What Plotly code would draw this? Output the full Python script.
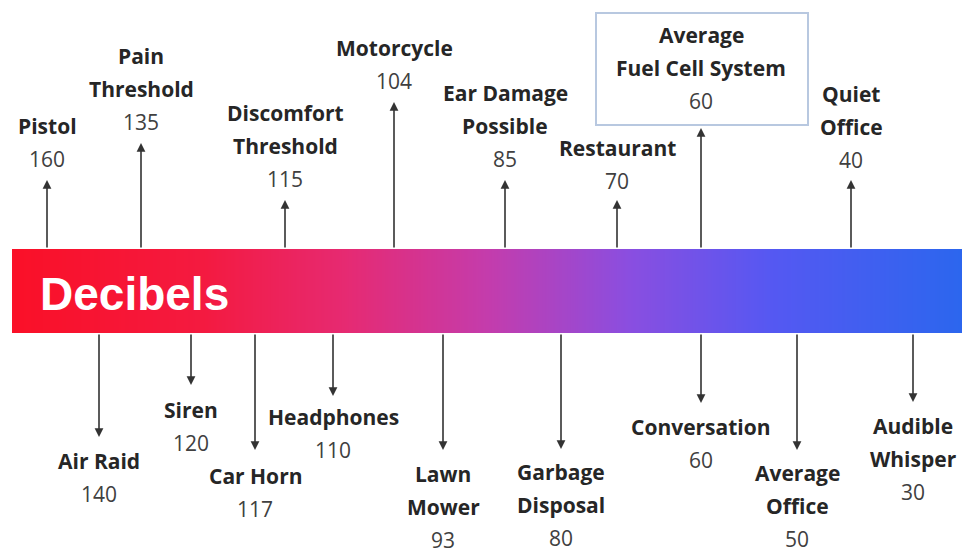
import numpy as np
import plotly.graph_objects as go

# noise sources, ordered left to right along the bar
sources = ["Pistol", "Air Raid", "Pain\nThreshold", "Siren", "Car Horn",
           "Discomfort\nThreshold", "Headphones", "Motorcycle", "Lawn\nMower",
           "Ear Damage\nPossible", "Garbage\nDisposal", "Restaurant",
           "Average\nFuel Cell System", "Conversation", "Average\nOffice",
           "Quiet\nOffice", "Audible\nWhisper"]
decibels = [160, 140, 135, 120, 117, 115, 110, 104, 93, 85, 80, 70, 60, 60, 50, 40, 30]

# layout (pixel coordinates of the 963x550 page)
side = ["up", "down", "up", "down", "down", "up", "down", "up", "down",
        "up", "down", "up", "up", "down", "down", "up", "down"]
x_pos = [47, 99, 141, 191, 255, 285, 333, 394, 443, 505, 561, 617, 701, 701, 797, 851, 913]
arrow_len = [69, 104, 106, 52, 117, 49, 63, 147, 117, 69, 116, 49, 121, 70, 117, 69, 69]
gap = [21, 24, 21, 25, 26, 21, 21, 21, 24, 21, 23, 19, 27, 24, 23, 20, 24]

bar_top, bar_bot, bar_left, bar_right = 249, 333, 12, 962
line_h = 33

grad = [[0.0, "#fa1028"], [0.2, "#f41a40"], [0.35, "#e62a72"], [0.5, "#c43cac"],
        [0.65, "#8a4ee0"], [0.8, "#5558f2"], [1.0, "#2c66ee"]]

n = 200
fig = go.Figure()
fig.add_trace(go.Heatmap(z=[list(np.linspace(0, 1, n))],
                         x0=bar_left + (bar_right - bar_left) / n / 2,
                         dx=(bar_right - bar_left) / n,
                         y0=(bar_top + bar_bot) / 2, dy=bar_bot - bar_top,
                         colorscale=grad, showscale=False, zsmooth="best",
                         hoverinfo="skip"))

anns = []
anns.append(dict(x=134, y=294, text="<b>Decibels</b>", showarrow=False,
                 font=dict(family="Liberation Sans", size=46, color="white")))

for name, db, s, x, L, g in zip(sources, decibels, side, x_pos, arrow_len, gap):
    lines = name.split("\n")
    if s == "up":
        tip = bar_top - L
        anns.append(dict(x=x, y=tip, ax=x, ay=bar_top, xref="x", yref="y",
                         axref="x", ayref="y", text="", showarrow=True,
                         arrowhead=2, arrowsize=1.1, arrowwidth=1.6, arrowcolor="#333333"))
        ys = [tip - g - line_h * (len(lines) - i) for i in range(len(lines))]
        yv = tip - g
    else:
        tip = bar_bot + L
        anns.append(dict(x=x, y=tip, ax=x, ay=bar_bot, xref="x", yref="y",
                         axref="x", ayref="y", text="", showarrow=True,
                         arrowhead=2, arrowsize=1.1, arrowwidth=1.6, arrowcolor="#333333"))
        ys = [tip + g + line_h * i for i in range(len(lines))]
        yv = tip + g + line_h * len(lines)
    for t, y in zip(lines, ys):
        anns.append(dict(x=x, y=y, text="<b>%s</b>" % t, showarrow=False,
                         font=dict(family="Open Sans", size=21, color="#262626")))
    anns.append(dict(x=x, y=yv, text=str(db), showarrow=False,
                     font=dict(family="Open Sans", size=21, color="#404040")))

fig.update_layout(
    width=963, height=550, margin=dict(l=0, r=0, t=0, b=0),
    plot_bgcolor="white", paper_bgcolor="white", showlegend=False,
    xaxis=dict(range=[0, 963], visible=False, fixedrange=True),
    yaxis=dict(range=[550, 0], visible=False, fixedrange=True),
    annotations=anns,
    shapes=[dict(type="rect", xref="x", yref="y", x0=596, x1=808, y0=13, y1=125,
                 line=dict(color="#b8c8e0", width=2), fillcolor="rgba(0,0,0,0)")],
)

# no page margin, so the figure fills the window exactly
fig.write_html("out.html", config={"displayModeBar": False},
               post_script="document.body.style.margin='0';"
                           "document.body.style.overflow='hidden';")
